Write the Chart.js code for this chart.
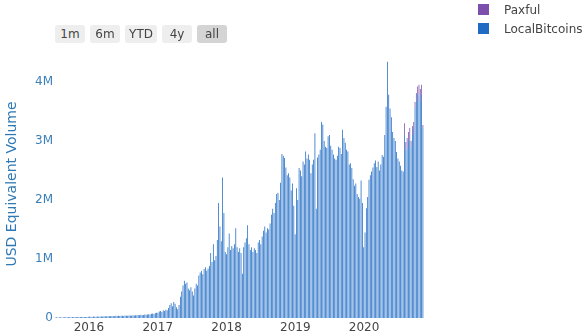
<!DOCTYPE html>
<html>
<head>
<meta charset="utf-8">
<script src="https://cdn.jsdelivr.net/npm/chart.js@4.4.1/dist/chart.umd.min.js"></script>
<style>
  body { margin: 0; background: #fff; font-family: "DejaVu Sans", Verdana, sans-serif; }
  #wrap { position: relative; width: 585px; height: 336px; }
  .btn { position: absolute; top: 25px; width: 30px; height: 18px; line-height: 18px; border-radius: 3px;
         background: #eeeeee; color: #444; font-size: 12px; text-align: center; }
  .btn.on { background: #d4d4d4; }
  .sw { position: absolute; left: 478px; width: 11px; height: 11px; }
  .lt { position: absolute; left: 504px; font-size: 12px; color: #444; line-height: 14px; }
</style>
</head>
<body>
<div id="wrap">
  <canvas id="myChart" width="585" height="336"></canvas>
  <div class="btn" style="left:55px">1m</div>
  <div class="btn" style="left:90px">6m</div>
  <div class="btn" style="left:125px;width:32px">YTD</div>
  <div class="btn" style="left:162px">4y</div>
  <div class="btn on" style="left:197px">all</div>
  <div class="sw" style="top:4px;background:#7c4fad"></div>
  <div class="lt" style="top:3px">Paxful</div>
  <div class="sw" style="top:23px;background:#1f6bc4"></div>
  <div class="lt" style="top:22px">LocalBitcoins</div>
</div>
<script>
// weekly volume in millions USD, weeks starting Mon 2015-07-06
const lbc2015 = [0.01,0.012,0.009,0.011,0.013,0.01,0.012,0.014,0.011,0.013,0.015,0.012,0.014,0.016,0.013,
  0.015,0.017,0.014,0.016,0.018,0.015,0.017,0.019,0.016,0.018,0.02];
const lbc2016 = [0.02,0.022,0.019,0.024,0.021,0.023,0.026,0.022,0.025,0.027,0.024,0.028,0.03,0.026,0.031,
  0.033,0.029,0.035,0.032,0.03,0.036,0.034,0.038,0.033,0.04,0.037,0.035,0.042,0.039,0.036,0.044,0.041,
  0.038,0.046,0.043,0.048,0.045,0.05,0.047,0.055,0.052,0.049,0.058,0.054,0.06,0.065,0.058,0.07,0.075,
  0.068,0.085,0.09];
const lbc2017 = [0.09,0.11,0.12,0.1,0.13,0.12,0.14,0.13,0.17,0.22,0.25,0.2,0.27,0.24,0.18,0.15,0.22,0.36,
  0.45,0.55,0.63,0.58,0.6,0.5,0.47,0.52,0.45,0.38,0.5,0.58,0.55,0.72,0.77,0.8,0.74,0.83,0.86,0.8,0.84,
  0.88,1.1,0.95,1.25,0.98,1.05,1.32,1.95,1.55,1.3,2.38,1.78,1.12];
const lbc2018 = [1.08,1.2,1.43,1.15,1.22,1.18,1.25,1.52,1.2,1.12,1.18,1.1,0.75,1.2,1.28,1.35,1.57,1.25,
  1.15,1.2,1.12,1.18,1.15,1.1,1.28,1.32,1.25,1.38,1.48,1.55,1.45,1.52,1.5,1.6,1.75,1.85,1.78,1.95,2.1,
  2.12,2.0,2.29,2.78,2.75,2.71,2.55,2.42,2.45,2.38,2.16,2.28,1.9,1.42];
const lbc2019 = [2.2,2.0,2.54,2.5,2.4,2.65,2.6,2.82,2.7,2.77,2.68,2.45,2.6,2.68,3.13,1.85,2.72,2.77,2.85,
  3.32,3.28,3.0,2.9,2.88,3.08,3.1,2.92,2.85,2.77,2.7,2.68,2.75,2.9,2.88,2.78,3.19,3.05,2.97,2.85,2.82,
  2.6,2.62,2.54,2.35,2.24,2.28,2.1,2.05,2.02,2.33,1.95,1.2];
const lbc2020 = [1.45,1.86,2.05,2.34,2.42,2.48,2.55,2.62,2.67,2.56,2.65,2.5,2.6,2.76,2.73,3.1,3.58,4.34,
  3.78,3.55,3.4,3.15,3.05,3.0,2.81,2.7,2.65,2.58,2.5,2.48,3.1,2.86,2.87,3.0,3.02,2.9,3.1,3.2,3.56,3.66,
  3.8,3.77,3.68,3.8,3.22];
const paxful2020 = [0,0,0,0,0,0,0,0,0,0,0,0,0,0,0,0,0,0,0,0,0,0,0,0,0,0,0,0,0,0,
  0.2,0.12,0.18,0.15,0.2,0.1,0.15,0.12,0.1,0.15,0.12,0.18,0.2,0.15,0.05];
const yearTicks = [2016, 2017, 2018, 2019, 2020];

const localBitcoins = [].concat(lbc2015, lbc2016, lbc2017, lbc2018, lbc2019, lbc2020);
const startDate = Date.UTC(2015, 6, 6);
const weekMs = 7 * 86400000;

function toYear(t) {
    const y = new Date(t).getUTCFullYear();
    const s = Date.UTC(y, 0, 1), e = Date.UTC(y + 1, 0, 1);
    return y + (t - s) / (e - s);
}
const weeks = localBitcoins.map((_, i) => toYear(startDate + i * weekMs));
const off2020 = localBitcoins.length - lbc2020.length;

Chart.defaults.font.family = '"DejaVu Sans", Verdana, sans-serif';
Chart.defaults.font.size = 12;

new Chart(document.getElementById('myChart'), {
    type: 'bar',
    data: {
        datasets: [{
            label: 'LocalBitcoins',
            data: localBitcoins.map((v, i) => ({ x: weeks[i], y: v })),
            backgroundColor: '#1f6bc4',
            barPercentage: 1,
            categoryPercentage: 0.58
        }, {
            label: 'Paxful',
            data: paxful2020.map((v, k) => ({ x: weeks[off2020 + k], y: v })),
            backgroundColor: '#7c4fad',
            barPercentage: 1,
            categoryPercentage: 0.58
        }]
    },
    options: {
        responsive: false,
        animation: false,
        layout: { padding: { left: 0, right: 159, top: 50, bottom: 0 } },
        plugins: { legend: { display: false }, tooltip: { enabled: false } },
        scales: {
            x: {
                type: 'linear',
                stacked: true,
                offset: false,
                min: 2015.506,
                max: 2020.9,
                grid: { display: false, drawTicks: false },
                border: { display: false },
                afterFit: (scale) => { scale.height = 18; },
                afterBuildTicks: (scale) => { scale.ticks = yearTicks.map(v => ({ value: v })); },
                ticks: { color: '#444', padding: 3, maxRotation: 0, callback: v => String(v) }
            },
            y: {
                stacked: true,
                min: 0,
                max: 4.54,
                grid: { display: false, drawTicks: false },
                border: { display: false },
                afterFit: (scale) => { scale.width = 55; },
                ticks: {
                    stepSize: 1,
                    includeBounds: false,
                    padding: 2,
                    color: '#3b7fb9',
                    callback: v => v === 0 ? '0' : v + 'M'
                },
                title: {
                    display: true,
                    text: 'USD Equivalent Volume',
                    color: '#2f79b4',
                    font: { size: 14 },
                    padding: { top: 4, bottom: 0 }
                }
            }
        }
    }
});
</script>
</body>
</html>
